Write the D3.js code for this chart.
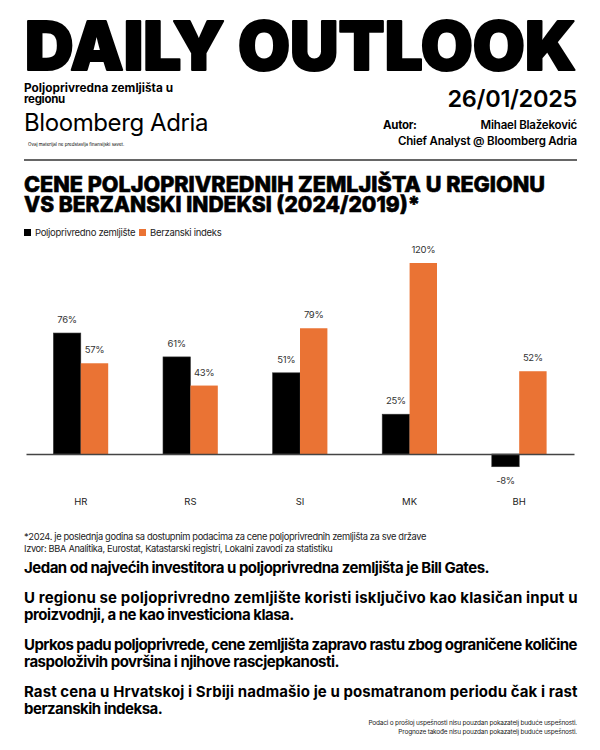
<!DOCTYPE html>
<html lang="hr">
<head>
<meta charset="UTF-8" />
<title>Daily Outlook</title>
<style>
  body { margin: 0; background: #fff; }
  svg { display: block; font-family: Inter, "Liberation Sans", sans-serif; }
</style>
</head>
<body>
<script src="https://cdn.jsdelivr.net/npm/d3@7"></script>
<div id="app"></div>
<script>
// podaci
const categories = ["HR", "RS", "SI", "MK", "BH"];
const seriesNames = ["Poljoprivredno zemljište", "Berzanski indeks"];
const landGrowth = [76, 61, 51, 25, -8];
const indexGrowth = [57, 43, 79, 120, 52];

const paragraphs = [
  ["Jedan od najvećih investitora u poljoprivredna zemljišta je Bill Gates."],
  ["U regionu se poljoprivredno zemljište koristi isključivo kao klasičan input u",
   "proizvodnji, a ne kao investiciona klasa."],
  ["Uprkos padu poljoprivrede, cene zemljišta zapravo rastu zbog ograničene količine",
   "raspoloživih površina i njihove rascjepkanosti."],
  ["Rast cena u Hrvatskoj i Srbiji nadmašio je u posmatranom periodu čak i rast",
   "berzanskih indeksa."]
];

const w = 600, h = 750;
const left = 24, right = 577;
const colors = ["#000000", "#EA7334"];

const svg = d3.select("#app").append("svg")
  .attr("width", w)
  .attr("height", h);

// zaglavlje
svg.append("text")
  .attr("x", left + 1).attr("y", 70)
  .attr("textLength", right - left - 2)
  .attr("lengthAdjust", "spacingAndGlyphs")
  .attr("stroke", "#000").attr("stroke-width", 2.2).attr("stroke-linejoin", "round")
  .style("font-size", "67px").style("font-weight", 900)
  .text("DAILY OUTLOOK");

svg.append("text").attr("x", left).attr("y", 92)
  .attr("textLength", 149).attr("lengthAdjust", "spacingAndGlyphs")
  .style("font-size", "11.5px").style("font-weight", 700)
  .text("Poljoprivredna zemljišta u");
svg.append("text").attr("x", left).attr("y", 103)
  .style("font-size", "11.5px").style("font-weight", 700).style("letter-spacing", "-0.3px")
  .text("regionu");

svg.append("text").attr("x", right).attr("y", 107)
  .attr("text-anchor", "end")
  .style("font-size", "23.5px").style("font-weight", 600).style("letter-spacing", "-0.3px")
  .text("26/01/2025");

svg.append("text").attr("x", left).attr("y", 131)
  .style("font-size", "24px").style("font-weight", 400).style("letter-spacing", "-0.4px")
  .text("Bloomberg Adria");

svg.append("text").attr("x", 28).attr("y", 146)
  .style("font-size", "4.5px")
  .text("Ovaj materijal ne predstavlja finansijski savet.");

svg.append("text").attr("x", 383).attr("y", 129)
  .style("font-size", "11.5px").style("font-weight", 700).style("letter-spacing", "-0.3px")
  .text("Autor:");
svg.append("text").attr("x", right).attr("y", 129)
  .attr("text-anchor", "end")
  .style("font-size", "11.5px").style("font-weight", 600).style("letter-spacing", "-0.2px")
  .text("Mihael Blažeković");
svg.append("text").attr("x", right).attr("y", 145)
  .attr("text-anchor", "end")
  .style("font-size", "11.5px").style("font-weight", 600).style("letter-spacing", "-0.2px")
  .text("Chief Analyst @ Bloomberg Adria");

svg.append("line")
  .attr("x1", left).attr("x2", right)
  .attr("y1", 160).attr("y2", 160)
  .attr("stroke", "#333").attr("stroke-width", 1.5);

// naslov grafikona
const title = ["CENE POLJOPRIVREDNIH ZEMLJIŠTA U REGIONU", "VS BERZANSKI INDEKSI (2024/2019)*"];
const titleWidth = [521, 396];
svg.selectAll(".title")
  .data(title)
  .enter()
  .append("text")
  .attr("class", "title")
  .attr("x", left)
  .attr("y", (d, i) => 192 + i * 20)
  .attr("textLength", (d, i) => titleWidth[i])
  .attr("lengthAdjust", "spacingAndGlyphs")
  .attr("stroke", "#000").attr("stroke-width", 0.6)
  .style("font-size", "21.5px").style("font-weight", 800)
  .text(d => d);

// legenda
const legendX = [24, 139];
const legend = svg.selectAll(".legend")
  .data(seriesNames)
  .enter()
  .append("g")
  .attr("class", "legend")
  .attr("transform", (d, i) => "translate(" + legendX[i] + ",229)");
legend.append("rect")
  .attr("width", 7).attr("height", 7)
  .attr("fill", (d, i) => colors[i]);
legend.append("text")
  .attr("x", 11).attr("y", 7)
  .style("font-size", "9.5px").style("letter-spacing", "-0.3px")
  .attr("fill", "#222")
  .text(d => d);

// grafikon
const xScale = d3.scaleBand()
  .domain(categories)
  .range([26, 574])
  .paddingInner(0.5)
  .paddingOuter(0.25);

const xSub = d3.scaleBand()
  .domain([0, 1])
  .range([0, xScale.bandwidth()]);

const yScale = d3.scaleLinear()
  .domain([0, 120])
  .range([454, 263]);

const rows = categories.map((c, i) => ({ cat: c, values: [landGrowth[i], indexGrowth[i]] }));

const groups = svg.selectAll(".group")
  .data(rows)
  .enter()
  .append("g")
  .attr("class", "group")
  .attr("transform", d => "translate(" + xScale(d.cat) + ",0)");

groups.selectAll("rect")
  .data(d => d.values)
  .enter()
  .append("rect")
  .attr("x", (d, i) => xSub(i))
  .attr("width", xSub.bandwidth())
  .attr("y", d => yScale(Math.max(0, d)))
  .attr("height", d => Math.abs(yScale(d) - yScale(0)))
  .attr("fill", (d, i) => colors[i])
  .attr("stroke", (d, i) => i === 0 ? "#333" : "none")
  .attr("stroke-width", 0.6);

groups.selectAll(".val")
  .data(d => d.values)
  .enter()
  .append("text")
  .attr("class", "val")
  .attr("x", (d, i) => xSub(i) + xSub.bandwidth() / 2)
  .attr("y", d => d >= 0 ? yScale(d) - 10 : yScale(d) + 17)
  .attr("text-anchor", "middle")
  .style("font-size", "9.5px").style("letter-spacing", "-0.3px")
  .attr("fill", "#333")
  .text(d => d + "%");

const xAxis = d3.axisBottom(xScale).tickSize(0).tickPadding(44);
const axisG = svg.append("g")
  .attr("transform", "translate(0," + yScale(0) + ")")
  .call(xAxis);
axisG.select(".domain").attr("stroke", "#444").attr("stroke-width", 1.5);
axisG.selectAll("text")
  .style("font-family", "Inter, 'Liberation Sans', sans-serif")
  .style("font-size", "9.5px")
  .attr("fill", "#222");

// fusnote
const notes = [
  "*2024. je poslednja godina sa dostupnim podacima za cene poljoprivrednih zemljišta za sve države",
  "Izvor: BBA Analitika, Eurostat, Katastarski registri, Lokalni zavodi za statistiku"
];
svg.selectAll(".note")
  .data(notes)
  .enter()
  .append("text")
  .attr("x", left)
  .attr("y", (d, i) => 540 + i * 12)
  .style("font-size", "9.3px").style("letter-spacing", "-0.35px")
  .attr("fill", "#222")
  .text(d => d);

// tekst
let yPos = 573;
paragraphs.forEach(p => {
  p.forEach((line, j) => {
    const t = svg.append("text")
      .attr("x", left).attr("y", yPos)
      .style("font-size", "15px").style("font-weight", 700).style("letter-spacing", "-0.5px")
      .text(line);
    if (p.length > 1 && j < p.length - 1) {
      t.attr("textLength", right - left).attr("lengthAdjust", "spacing");
    }
    yPos += 17.5;
  });
  yPos += 12;
});

const disclaimer = [
  "Podaci o prošloj uspešnosti nisu pouzdan pokazatelj buduće uspešnosti.",
  "Prognoze takođe nisu pouzdan pokazatelj buduće uspešnosti."
];
svg.selectAll(".disc")
  .data(disclaimer)
  .enter()
  .append("text")
  .attr("x", right)
  .attr("y", (d, i) => 725 + i * 9)
  .attr("text-anchor", "end")
  .style("font-size", "6.5px").style("letter-spacing", "-0.2px")
  .attr("fill", "#222")
  .text(d => d);
</script>
</body>
</html>
